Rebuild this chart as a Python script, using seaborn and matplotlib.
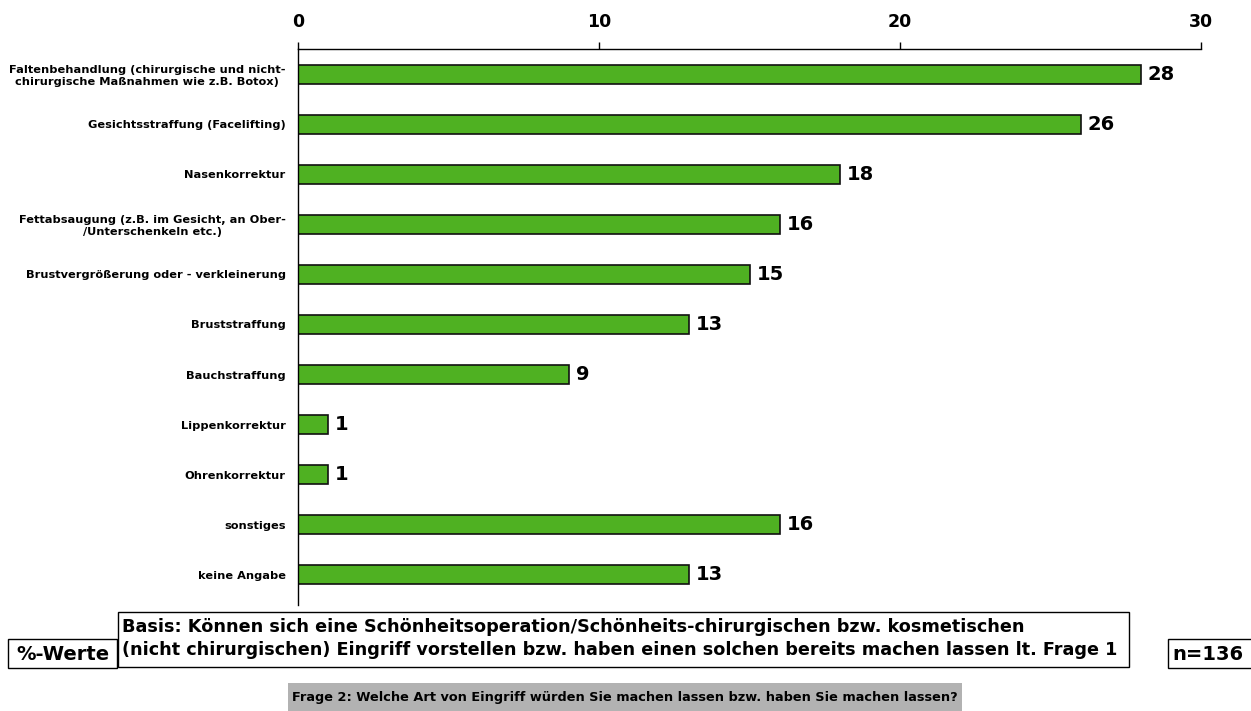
import matplotlib
matplotlib.use("Agg")
import matplotlib.pyplot as plt
from matplotlib.patches import Rectangle
import seaborn as sns
import pandas as pd

# Survey answers (percent of respondents)
categories = [
    "Faltenbehandlung (chirurgische und nicht-\nchirurgische Maßnahmen wie z.B. Botox)",
    "Gesichtsstraffung (Facelifting)",
    "Nasenkorrektur",
    "Fettabsaugung (z.B. im Gesicht, an Ober-\n/Unterschenkeln etc.)",
    "Brustvergrößerung oder - verkleinerung",
    "Bruststraffung",
    "Bauchstraffung",
    "Lippenkorrektur",
    "Ohrenkorrektur",
    "sonstiges",
    "keine Angabe",
]
values = [28, 26, 18, 16, 15, 13, 9, 1, 1, 16, 13]
x_ticks = [0, 10, 20, 30]

basis_text = ("Basis: Können sich eine Schönheitsoperation/Schönheits-chirurgischen bzw. kosmetischen\n"
              "(nicht chirurgischen) Eingriff vorstellen bzw. haben einen solchen bereits machen lassen lt. Frage 1")
unit_text = "%-Werte"
n_text = "n=136"
question_text = "Frage 2: Welche Art von Eingriff würden Sie machen lassen bzw. haben Sie machen lassen?"

sns.set_theme(style="white")
plt.rcParams["font.family"] = ["DejaVu Sans"]
plt.rcParams["text.color"] = "black"
plt.rcParams["xtick.color"] = "black"
plt.rcParams["ytick.color"] = "black"
plt.rcParams["axes.labelcolor"] = "black"

W, H = 1251, 711
fig = plt.figure(figsize=(W / 100, H / 100), dpi=100)
ax = fig.add_axes([298 / W, 1 - 605 / H, (1201 - 298) / W, (605 - 49) / H])

df = pd.DataFrame({"Eingriff": categories, "Prozent": values})
sns.barplot(data=df, x="Prozent", y="Eingriff", orient="h", color="#4FB122",
            saturation=1, width=0.38, edgecolor="#111111", linewidth=1.2, ax=ax)

for cont in ax.containers:
    ax.bar_label(cont, fmt="%d", padding=5, fontsize=14, fontweight="bold", color="black")

ax.set_xlim(0, 30)
ax.set_ylim(10.6, -0.5)
ax.set_xlabel("")
ax.set_ylabel("")

ax.xaxis.tick_top()
ax.set_xticks(x_ticks)
ax.set_xticklabels([str(t) for t in x_ticks], fontsize=12.5, fontweight="bold")
ax.tick_params(axis="x", which="major", direction="out", length=5, width=1,
               color="black", pad=8, top=True, bottom=False)
ax.tick_params(axis="y", length=0, pad=9)
for lab in ax.get_yticklabels():
    lab.set_fontsize(8.2)
    lab.set_fontweight("bold")
    lab.set_color("black")
    lab.set_multialignment("center")

for side in ["right", "bottom"]:
    ax.spines[side].set_visible(False)
for side in ["top", "left"]:
    ax.spines[side].set_visible(True)
    ax.spines[side].set_color("black")
    ax.spines[side].set_linewidth(1)
ax.grid(False)


def px_box(x0, y0, x1, y1, face="white", edge="black", lw=1):
    fig.add_artist(Rectangle((x0 / W, 1 - y1 / H), (x1 - x0) / W, (y1 - y0) / H,
                             transform=fig.transFigure, facecolor=face,
                             edgecolor=edge, linewidth=lw))


# Footer boxes
px_box(8, 639, 117, 668)
fig.text(63 / W, 1 - 654 / H, unit_text, ha="center", va="center",
         fontsize=14, fontweight="bold")

px_box(118, 612, 1129, 667)
fig.text(122 / W, 1 - 638.5 / H, basis_text, ha="left", va="center",
         fontsize=12.7, fontweight="bold", linespacing=1.3)

px_box(1168, 639, 1260, 668)
fig.text(1172 / W, 1 - 654 / H, n_text, ha="left", va="center",
         fontsize=14, fontweight="bold")

px_box(288, 683, 962, 712, face="#b2b2b2", edge="none", lw=0)
fig.text(625 / W, 1 - 697.5 / H, question_text, ha="center", va="center",
         fontsize=9.3, fontweight="bold")

fig.savefig("out.png", dpi=100)
